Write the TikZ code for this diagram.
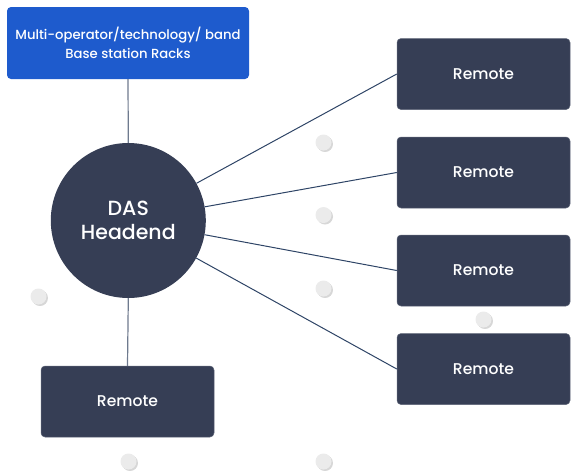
\documentclass[tikz,border=0pt]{standalone}
\usepackage{fontspec}
\setmainfont{Poppins}[UprightFont={* Medium}, BoldFont={* SemiBold}]
\usetikzlibrary{shadows}
\definecolor{navy}{HTML}{363E55}
\definecolor{brandblue}{HTML}{1E5BCD}
\definecolor{linkdark}{HTML}{2E4466}
\definecolor{linkgrey}{HTML}{6E7A8E}
\definecolor{dotfill}{HTML}{EBEBEB}
\begin{document}
\begin{tikzpicture}[x=1pt,y=-1pt,
  remotebox/.style={draw=navy!80!white, line width=0.5pt, fill=navy, rounded corners=4pt,
    minimum width=173pt, minimum height=71pt, inner sep=0pt, text=white,
    font=\fontsize{15.6}{18}\selectfont},
  rack/.style={fill=brandblue, rounded corners=4pt, minimum width=242pt, minimum height=72pt,
    inner sep=0pt, text=white, align=center, font=\fontsize{13.2}{19}\selectfont},
  hub/.style={circle, fill=navy, minimum size=155pt, inner sep=0pt, text=white,
    align=center, font=\fontsize{20.5}{24}\selectfont},
  feeder/.style={draw=linkgrey, line width=1.2pt},
  spoke/.style={draw=linkdark, line width=1pt},
  dot/.style={circle, fill=dotfill, minimum size=16pt, inner sep=0pt,
    drop shadow={shadow xshift=1.5pt, shadow yshift=-1.5pt, opacity=0.35, fill=black!45}}
]
\useasboundingbox (0,0) rectangle (571,475);

% decorative dots
\node[dot] (d1) at (323.5,142.5) {};
\node[dot] (d2) at (323.5,215) {};
\node[dot] (d3) at (323.5,288.5) {};
\node[dot] (d4) at (483.5,319.5) {};
\node[dot] (d5) at (38.5,296.5) {};
\node[dot] (d6) at (128.5,461.5) {};
\node[dot] (d7) at (323.5,461.5) {};

% base station racks and headend
\node[rack] (bs) at (128,43) {Multi-operator/technology/ band\\Base station Racks};
\node[hub] (das) at (128.3,220.5) {DAS\\Headend};

% remote units
\node[remotebox] (r1) at (483.5,74) {Remote};
\node[remotebox] (r2) at (483.5,172.5) {Remote};
\node[remotebox] (r3) at (483.5,270.5) {Remote};
\node[remotebox] (r4) at (483.5,369) {Remote};
\node[remotebox] (r5) at (127.5,401.5) {Remote};

% connections
\draw[feeder] (bs.south) -- (das.north);
\draw[feeder] (das.south) -- (r5.north);
\draw[spoke] (das) -- (r1.west);
\draw[spoke] (das) -- (r2.west);
\draw[spoke] (das) -- (r3.west);
\draw[spoke] (das) -- (r4.west);
\end{tikzpicture}
\end{document}
